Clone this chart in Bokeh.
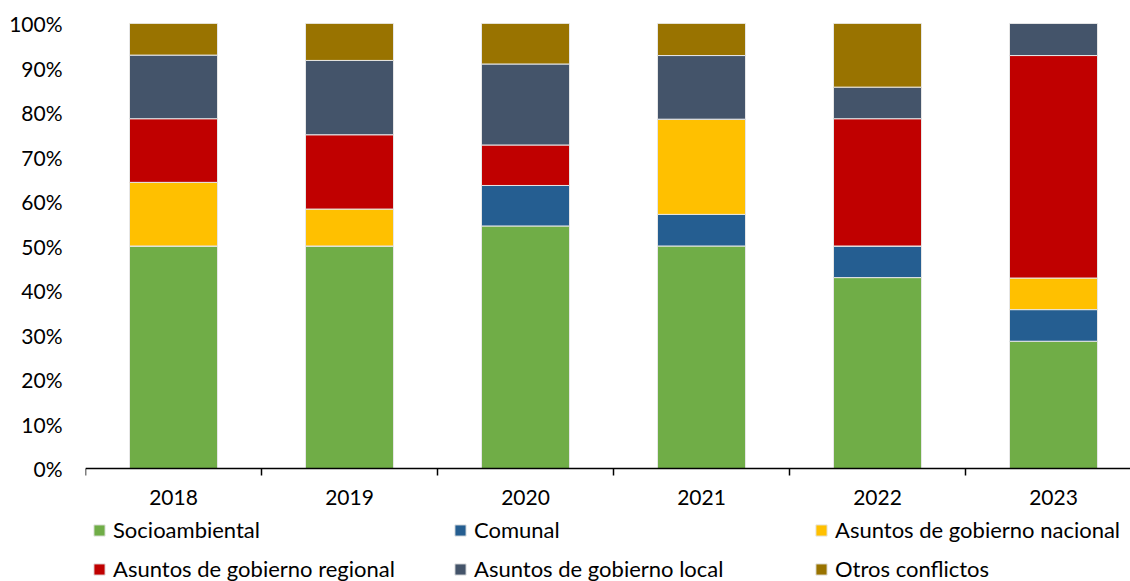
import math
from bokeh.plotting import figure
from bokeh.models import (Range1d, FixedTicker, NumeralTickFormatter, Legend, LegendItem,
                          ColumnDataSource, Span)
from bokeh.core.properties import value
from bokeh.embed import file_html
from bokeh.resources import INLINE

years = ["2018", "2019", "2020", "2021", "2022", "2023"]
socioambiental = [50.0, 50.0, 54.5, 50.0, 42.9, 28.6]
comunal = [0.0, 0.0, 9.1, 7.1, 7.1, 7.1]
nacional = [14.3, 8.3, 0.0, 21.4, 0.0, 7.1]
regional = [14.3, 16.7, 9.1, 0.0, 28.6, 50.0]
local = [14.3, 16.7, 18.2, 14.3, 7.1, 7.2]
otros = [7.1, 8.3, 9.1, 7.2, 14.3, 0.0]

series = ["Socioambiental", "Comunal", "Asuntos de gobierno nacional",
          "Asuntos de gobierno regional", "Asuntos de gobierno local", "Otros conflictos"]
colors = ["#70AD47", "#255E91", "#FFC000", "#C00000", "#44546A", "#997300"]
values = [socioambiental, comunal, nacional, regional, local, otros]

FONT = "Lato"
FS = "21px"
LFS = "22px"

xs = [i + 0.5 for i in range(len(years))]
bounds = list(range(len(years) + 1))
data = {"x": xs}
keys = ["s0", "s1", "s2", "s3", "s4", "s5"]
for k, v in zip(keys, values):
    data[k] = [a / 100.0 for a in v]
src = ColumnDataSource(data)

# frame spans canvas rows 23..581; value 0 sits at row 468
y_bottom = -(581 - 468) / (468 - 23)

p = figure(width=1130, height=581, output_backend="svg", toolbar_location=None,
           x_range=Range1d(0, 5.9375), y_range=Range1d(y_bottom, 1),
           min_border_left=85, min_border_right=0, min_border_top=23, min_border_bottom=0)
p.outline_line_color = None
p.grid.grid_line_color = None
p.background_fill_color = "white"
p.xaxis.visible = False

renderers = p.vbar_stack(keys, x="x", width=0.5, source=src, color=colors,
                         line_color="#e6e6e6", line_width=1)

# category axis drawn at value 0
p.add_layout(Span(location=0, dimension="width", line_color="#000000", line_width=1.5))
p.ray(x=bounds, y=[0] * len(bounds), length=7, length_units="screen",
      angle=-math.pi / 2, line_color="#000000", line_width=1.5)
p.text(x=xs, y=[0] * len(xs), text=years, y_offset=29,
       text_font=value(FONT), text_font_size=FS, text_color="#000000",
       text_align="center", text_baseline="middle")

# value axis
p.yaxis.ticker = FixedTicker(ticks=[i / 10 for i in range(11)])
p.yaxis.formatter = NumeralTickFormatter(format="0%")
p.yaxis.axis_line_color = None
p.yaxis.major_tick_line_color = None
p.yaxis.minor_tick_line_color = None
p.yaxis.major_tick_out = 0
p.yaxis.major_label_standoff = 23
p.yaxis.major_label_text_font = FONT
p.yaxis.major_label_text_font_size = FS
p.yaxis.major_label_text_color = "#000000"

items = [LegendItem(label=s, renderers=[r]) for s, r in zip(series, renderers)]
legend = Legend(items=items, orientation="horizontal", ncols=3,
                location=(7, -1), border_line_color=None,
                background_fill_alpha=0,
                label_text_font=FONT, label_text_font_size=LFS,
                label_text_color="#000000",
                glyph_width=14, glyph_height=14, label_standoff=7,
                label_width=328, label_height=24, spacing=12,
                padding=0, margin=0)
p.add_layout(legend, "center")

open("out.html", "w").write(file_html(p, INLINE))
